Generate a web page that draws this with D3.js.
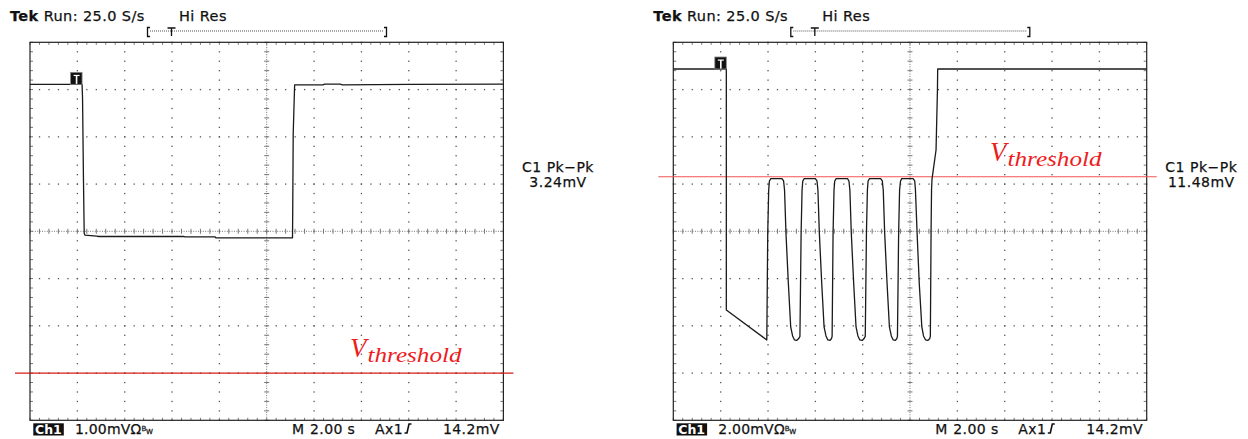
<!DOCTYPE html>
<html>
<head>
<meta charset="utf-8">
<script src="https://cdn.jsdelivr.net/npm/d3@7"></script>
<style>
  body { margin: 0; background: #fff; }
  svg { display: block; }
  text { font-family: "DejaVu Sans", sans-serif; fill: #111; }
  .scope { stroke: #111; stroke-width: 0.25px; }
</style>
</head>
<body>
<script>
// Scope settings
const secPerDiv = 2.0
const mvPerDiv = [1.0, 2.0]
const pkpkText = ['3.24mV', '11.48mV']
const scaleText = ['1.00mV', '2.00mV']
const thresholdMv = [-3.0, 2.31]
const triggerSec = [2.20, 2.24]

// Left screen trace: time (s) / voltage (mV)
const leftT = [0, 2.20, 2.22, 2.26, 2.29, 2.32, 2.82, 2.90, 6.48, 6.55, 7.82, 7.86,
  11.09, 11.10, 11.12, 11.18, 12.38, 12.45, 13.10, 13.20, 16.00, 20.00]
const leftV = [3.11, 3.11, 2.81, 1.05, -0.04, -0.08, -0.10, -0.11, -0.11, -0.12, -0.12, -0.14,
  -0.14, 0.45, 2.07, 3.10, 3.10, 3.115, 3.115, 3.10, 3.11, 3.115]

// Right screen trace: time (s) / voltage (mV)
const rightT = [0, 2.24, 2.24, 3.95,
  3.99, 4.03, 4.06, 4.12, 4.59, 4.66, 4.70, 4.76, 4.86, 4.96, 5.04, 5.12, 5.21, 5.29,
  5.35, 5.40, 5.44, 5.47, 5.53, 6.00, 6.07, 6.11, 6.17, 6.27, 6.37, 6.45, 6.53, 6.62, 6.68,
  6.71, 6.75, 6.79, 6.82, 6.88, 7.36, 7.42, 7.46, 7.52, 7.62, 7.72, 7.80, 7.88, 7.98, 8.05,
  8.11, 8.16, 8.20, 8.23, 8.29, 8.76, 8.83, 8.87, 8.93, 9.03, 9.13, 9.21, 9.29, 9.38, 9.44,
  9.47, 9.52, 9.56, 9.60, 9.65, 10.13, 10.20, 10.23, 10.30, 10.39, 10.50, 10.57, 10.66, 10.75, 10.83,
  10.86, 10.89, 10.91, 10.93, 11.10, 11.16, 11.17, 20.00]
const rightV = [6.87, 6.87, -3.33, -4.60,
  -0.07, 1.75, 2.13, 2.23, 2.23, 2.13, 1.75, -0.07, -2.19, -4.05, -4.43, -4.60, -4.62, -4.55,
  -4.45, -0.07, 1.75, 2.13, 2.23, 2.23, 2.13, 1.75, -0.07, -2.19, -4.05, -4.43, -4.60, -4.62, -4.55,
  -4.45, -0.07, 1.75, 2.13, 2.23, 2.23, 2.13, 1.75, -0.07, -2.19, -4.05, -4.43, -4.60, -4.62, -4.55,
  -4.45, -0.07, 1.75, 2.13, 2.23, 2.23, 2.13, 1.75, -0.07, -2.19, -4.05, -4.43, -4.60, -4.62, -4.55,
  -4.45, -0.07, 1.75, 2.13, 2.23, 2.23, 2.13, 1.75, -0.07, -2.19, -4.05, -4.43, -4.60, -4.62, -4.55,
  -4.45, -0.07, 1.75, 2.21, 3.44, 6.00, 6.87, 6.87]

const panels = [
  { x0: 30, t: leftT, v: leftV, i: 0, vx: 350, redColor: '#d41c1c' },
  { x0: 673.3, t: rightT, v: rightV, i: 1, vx: 990, redColor: '#f25454' }
]

const W = 1248, H = 439
const y0 = 42.3, gw = 473.4, gh = 378
const svg = d3.select('body').append('svg').attr('width', W).attr('height', H)

panels.forEach(p => {
  const g = svg.append('g').attr('transform', `translate(${p.x0},${y0})`)

  // division scales for the graticule
  const dx = d3.scaleLinear().domain([0, 10]).range([0, gw])
  const dy = d3.scaleLinear().domain([0, 8]).range([0, gh])
  // data scales
  const x = d3.scaleLinear().domain([0, 10 * secPerDiv]).range([0, gw])
  const y = d3.scaleLinear().domain([-4 * mvPerDiv[p.i], 4 * mvPerDiv[p.i]]).range([gh, 0])

  const grid = g.append('g').attr('fill', '#555').attr('stroke', '#777')
  const minorX = d3.range(0, 10.001, 0.2)
  const minorY = d3.range(0, 8.001, 0.2)

  // dotted grid lines
  d3.range(1, 10).filter(i => i !== 5).forEach(i => {
    grid.selectAll(null).data(minorY).enter().append('rect')
      .attr('x', dx(i) - 0.6).attr('y', d => dy(d) - 0.6)
      .attr('width', 1.3).attr('height', 1.3).attr('stroke', 'none')
  })
  d3.range(1, 8).filter(k => k !== 4).forEach(k => {
    grid.selectAll(null).data(minorX).enter().append('rect')
      .attr('x', d => dx(d) - 0.6).attr('y', dy(k) - 0.6)
      .attr('width', 1.3).attr('height', 1.3).attr('stroke', 'none')
  })

  // centre cross: fine dots plus minor ticks
  grid.append('line').attr('x1', dx(5)).attr('x2', dx(5)).attr('y1', 0).attr('y2', gh)
    .attr('stroke-dasharray', '1,1.4')
  grid.append('line').attr('x1', 0).attr('x2', gw).attr('y1', dy(4)).attr('y2', dy(4))
    .attr('stroke-dasharray', '1,1.4')
  grid.selectAll(null).data(minorY).enter().append('line')
    .attr('x1', dx(5) - 2.5).attr('x2', dx(5) + 2.5)
    .attr('y1', d => dy(d)).attr('y2', d => dy(d))
  grid.selectAll(null).data(minorX).enter().append('line')
    .attr('y1', dy(4) - 2.5).attr('y2', dy(4) + 2.5)
    .attr('x1', d => dx(d)).attr('x2', d => dx(d))

  // ticks on the frame
  grid.selectAll(null).data(minorX).enter().append('line')
    .attr('x1', d => dx(d)).attr('x2', d => dx(d)).attr('y1', 0).attr('y2', 2.5)
  grid.selectAll(null).data(minorX).enter().append('line')
    .attr('x1', d => dx(d)).attr('x2', d => dx(d)).attr('y1', gh).attr('y2', gh - 2.5)
  grid.selectAll(null).data(minorY).enter().append('line')
    .attr('y1', d => dy(d)).attr('y2', d => dy(d)).attr('x1', 0).attr('x2', 3)
  grid.selectAll(null).data(minorY).enter().append('line')
    .attr('y1', d => dy(d)).attr('y2', d => dy(d)).attr('x1', gw).attr('x2', gw - 3)

  g.append('rect').attr('width', gw).attr('height', gh)
    .attr('fill', 'none').attr('stroke', '#222').attr('stroke-width', 1.2)

  // threshold line
  g.append('line')
    .attr('x1', -15).attr('x2', gw + 10)
    .attr('y1', y(thresholdMv[p.i])).attr('y2', y(thresholdMv[p.i]))
    .attr('stroke', p.redColor).attr('stroke-width', 1.2)

  // trace
  const pts = p.t.map((t, j) => [t, p.v[j]])
  g.append('path').datum(pts)
    .attr('d', d3.line().x(d => x(d[0])).y(d => y(d[1])))
    .attr('fill', 'none').attr('stroke', '#1a1a1a').attr('stroke-width', 1.3)
    .attr('stroke-linejoin', 'round')

  // trigger marker
  const tx = x(triggerSec[p.i]), ty = y(p.v[0])
  g.append('rect').attr('x', tx - 11.5).attr('y', ty - 12).attr('width', 11.5).attr('height', 12)
    .attr('fill', '#111').attr('stroke', '#888').attr('stroke-width', 0.8)
  g.append('rect').attr('x', tx - 6.3).attr('y', ty - 9).attr('width', 1.6).attr('height', 8.5)
    .attr('fill', '#fff')
  g.append('rect').attr('x', tx - 8.5).attr('y', ty - 9.5).attr('width', 6).attr('height', 1.2)
    .attr('fill', '#fff')

  // V_threshold label
  const lbl = svg.append('text')
    .attr('x', p.vx).attr('y', y0 + y(thresholdMv[p.i]) - 16)
    .style('font-family', '"Liberation Serif", "DejaVu Serif", serif')
    .style('font-style', 'italic').style('fill', '#ee1c1c')
  lbl.append('tspan').style('font-size', '27px').text('V')
  lbl.append('tspan').attr('dy', 5.4).attr('dx', 1).style('font-size', '21px')
    .attr('textLength', 94).attr('lengthAdjust', 'spacingAndGlyphs').text('threshold')

  // header
  const hx = p.x0
  const head = svg.append('text').attr('class', 'scope').attr('x', hx - 20).attr('y', 21)
    .style('font-size', '14.5px').style('letter-spacing', '0.4px')
  head.append('tspan').style('font-weight', 'bold').text('Tek')
  head.append('tspan').text(' Run: 25.0 S/s')
  svg.append('text').attr('class', 'scope').attr('x', hx + 149).attr('y', 21)
    .style('font-size', '14.5px').style('letter-spacing', '0.4px').text('Hi Res')

  // record bracket
  const br = svg.append('g').attr('stroke', '#111').attr('fill', 'none')
  br.append('path').attr('d', `M${hx + 120},27.5 h-2.5 v9 h2.5`).attr('stroke-width', 1.3)
  br.append('path').attr('d', `M${hx + 354},27.5 h2.5 v9 h-2.5`).attr('stroke-width', 1.3)
  br.append('line').attr('x1', hx + 120).attr('x2', hx + 354).attr('y1', 31).attr('y2', 31)
    .attr('stroke-dasharray', '1,1').attr('stroke', '#555')
  br.append('path').attr('d', `M${hx + 137.5},28 h8 M${hx + 141.5},28 v8`).attr('stroke-width', 1.3)

  // measurement readout
  svg.append('text').attr('class', 'scope').attr('x', hx + 528).attr('y', 172.3).attr('text-anchor', 'middle')
    .style('font-size', '14px').style('letter-spacing', '0.5px').text('C1 Pk\u2212Pk')
  svg.append('text').attr('class', 'scope').attr('x', hx + 528).attr('y', 186.7).attr('text-anchor', 'middle')
    .style('font-size', '14px').style('letter-spacing', '0.5px').text(pkpkText[p.i])

  // footer
  svg.append('rect').attr('x', hx + 3.3).attr('y', 423.3).attr('width', 30.5).attr('height', 12.2)
    .attr('fill', '#111')
  svg.append('text').attr('x', hx + 5).attr('y', 434.3).style('fill', '#fff')
    .style('font-size', '12.5px').style('font-weight', 'bold').text('Ch1')
  const sc = svg.append('text').attr('class', 'scope').attr('x', hx + 45).attr('y', 433.5)
    .style('font-size', '14px').style('letter-spacing', '0.2px')
  sc.append('tspan').text(scaleText[p.i] + '\u03a9')
  sc.append('tspan').attr('dy', -3).style('font-size', '7px').style('letter-spacing', '0').text('B')
  sc.append('tspan').attr('dy', 3.5).style('font-size', '7px').style('letter-spacing', '0').text('W')

  const foot = [['M', 262], ['2.00 s', 280], ['Ax1', 345], ['14.2mV', 413]]
  foot.forEach(f => {
    svg.append('text').attr('class', 'scope').attr('x', hx + f[1]).attr('y', 433.5)
      .style('font-size', '14px').style('letter-spacing', '0.4px').text(f[0])
  })
  // rising slope symbol
  svg.append('path')
    .attr('d', `M${hx + 374.5},433 h2.5 l2,-9 h2.5`)
    .attr('fill', 'none').attr('stroke', '#111').attr('stroke-width', 1.6)
})
</script>
</body>
</html>
